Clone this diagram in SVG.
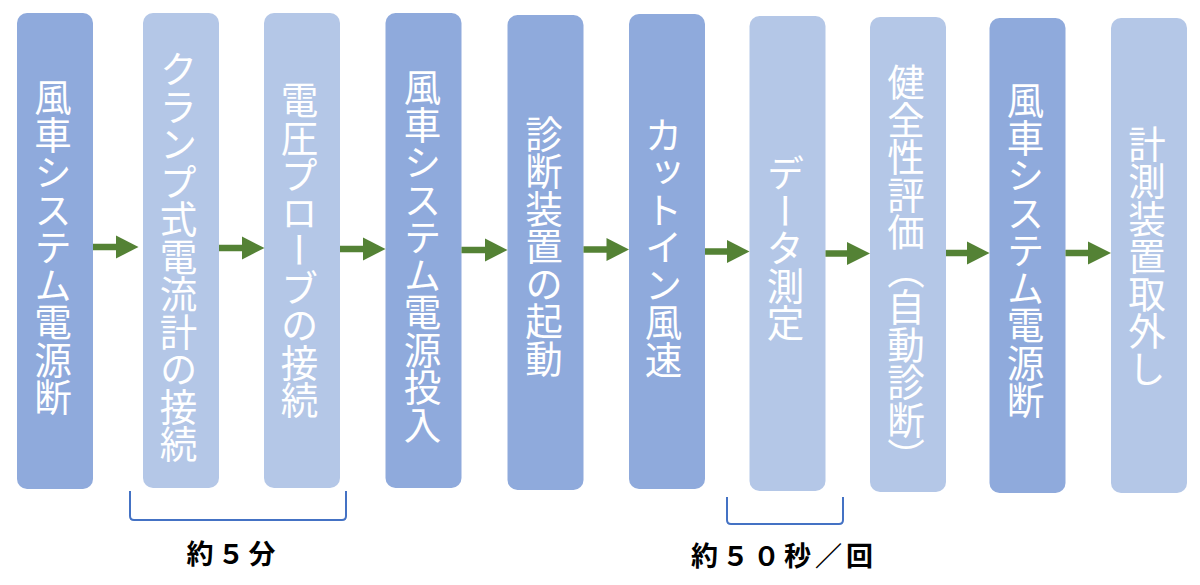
<svg xmlns="http://www.w3.org/2000/svg" width="1200" height="585" viewBox="0 0 1200 585">
<style>
.dk{fill:#8FAADC}
.lt{fill:#B4C7E7}
.lbl{font-family:"Noto Sans CJK JP","Noto Sans CJK SC",sans-serif;font-size:37.5px;fill:#FFFFFF;writing-mode:vertical-rl;text-anchor:middle}
.cap{font-family:"Noto Sans CJK JP","Noto Sans CJK SC",sans-serif;font-size:27px;font-weight:bold;fill:#000000;text-anchor:middle;letter-spacing:4px}
.shaft{stroke:#548235;stroke-width:6.5;fill:none}
.head{fill:#548235}
.brk{stroke:#4472C4;stroke-width:2;fill:none}
</style>
<rect width="1200" height="585" fill="#FFFFFF"/>
<g id="node1"><rect class="dk" x="17" y="13" width="76" height="476" rx="10"/><text class="lbl" x="53" y="247">風車システム電源断</text></g>
<g id="node2"><rect class="lt" x="143" y="13" width="76" height="475" rx="10"/><text class="lbl" x="178.5" y="256.5">クランプ式電流計の接続</text></g>
<g id="node3"><rect class="lt" x="264" y="13" width="76" height="475" rx="10"/><text class="lbl" x="299.5" y="250">電圧プローブの接続</text></g>
<g id="node4"><rect class="dk" x="385.5" y="13" width="76" height="475" rx="10"/><text class="lbl" x="422.5" y="255.5">風車システム電源投入</text></g>
<g id="node5"><rect class="dk" x="507.5" y="15" width="76" height="475" rx="10"/><text class="lbl" x="544" y="246">診断装置の起動</text></g>
<g id="node6"><rect class="dk" x="629" y="14" width="76" height="475" rx="10"/><text class="lbl" x="663.5" y="247">カットイン風速</text></g>
<g id="node7"><rect class="lt" x="749.5" y="16" width="76" height="475" rx="10"/><text class="lbl" x="785.5" y="248">データ測定</text></g>
<g id="node8"><rect class="lt" x="870" y="17" width="76" height="475" rx="10"/><text class="lbl" x="906" y="269.5">健全性評価（自動診断）</text></g>
<g id="node9"><rect class="dk" x="989.5" y="18" width="76" height="475" rx="10"/><text class="lbl" x="1025.5" y="250">風車システム電源断</text></g>
<g id="node10"><rect class="lt" x="1111" y="18" width="76" height="475" rx="10"/><text class="lbl" x="1147" y="256">計測装置取外し</text></g>
<g id="connectors">
<path class="shaft" d="M93,247 H117"/><path class="head" d="M116,235.5 L138.5,247 L116,258.5 Z"/>
<path class="shaft" d="M219,248 H243"/><path class="head" d="M242,236.5 L264.5,248 L242,259.5 Z"/>
<path class="shaft" d="M340,249 H364"/><path class="head" d="M363,237.5 L385.5,249 L363,260.5 Z"/>
<path class="shaft" d="M461.5,250 H486"/><path class="head" d="M485,238.5 L507.5,250 L485,261.5 Z"/>
<path class="shaft" d="M583.5,249.5 H608"/><path class="head" d="M606.5,238 L629,249.5 L606.5,261 Z"/>
<path class="shaft" d="M705,251.5 H728"/><path class="head" d="M727,240 L749.5,251.5 L727,263 Z"/>
<path class="shaft" d="M825.5,253.5 H848"/><path class="head" d="M847,242 L870,253.5 L847,265 Z"/>
<path class="shaft" d="M946,253 H968"/><path class="head" d="M967,241.5 L989.5,253 L967,264.5 Z"/>
<path class="shaft" d="M1065.5,253 H1089"/><path class="head" d="M1088,241.5 L1111,253 L1088,264.5 Z"/>
</g>
<g id="brackets">
<path class="brk" d="M130,491 V516 Q130,520 134,520 H342 Q346,520 346,516 V491"/>
<path class="brk" d="M727,497 V520 Q727,524 731,524 H839 Q843,524 843,520 V497"/>
</g>
<text class="cap" x="233" y="564">約５分</text>
<text class="cap" x="784" y="566">約５０秒／回</text>
</svg>
